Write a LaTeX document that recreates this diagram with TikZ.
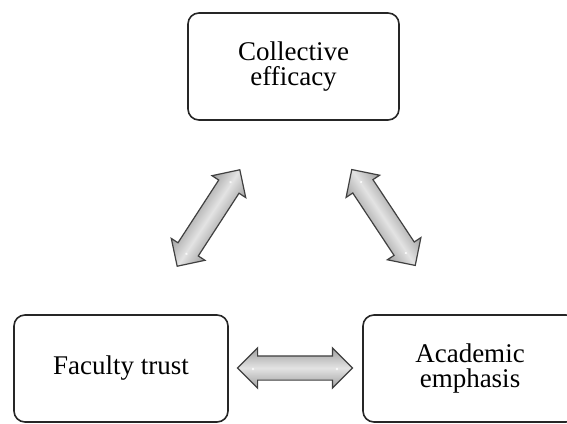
\documentclass[tikz,border=0pt]{standalone}
\usepackage{fontspec}
\setmainfont{Liberation Serif}
\usetikzlibrary{shapes.arrows}

\tikzset{
  factor/.style={draw=black!85, line width=1.6pt, rounded corners=11pt,
    minimum width=214pt, minimum height=107pt, inner sep=0pt, align=center,
    font=\fontsize{27}{25}\selectfont},
  link/.style={double arrow, draw=black!75, line width=1.2pt,
    inner xsep=0pt, inner ysep=11.5pt, minimum height=115pt,
    double arrow head extend=8pt,
    top color=gray!75, bottom color=gray!75, middle color=gray!22}
}

\begin{document}
\begin{tikzpicture}[x=1pt, y=1pt]
                \useasboundingbox (0,0) rectangle (567,423);

                % the three boxes
                \node[factor, minimum width=211pt] (ce) at (293.5,356.5) {Collective\\efficacy};
                \node[factor] (ft) at (121,54.5) {Faculty trust};
                \node[factor] (ae) at (470,54.5) {Academic\\emphasis};

                % block arrows, turned on the canvas so the shading turns too
                \begin{scope}[transform canvas={shift={(208.5,205)}, rotate=57}]
                    \node[link] (ce-ft) at (0,0) {};
                    \fill[white, opacity=.8] (-42,-1) circle (1.3) (42,1) circle (1.3);
                \end{scope}
                \begin{scope}[transform canvas={shift={(383.5,205.5)}, rotate=-56.5}]
                    \node[link] (ce-ae) at (0,0) {};
                    \fill[white, opacity=.8] (-42,1) circle (1.3) (42,-1) circle (1.3);
                \end{scope}
                \begin{scope}[transform canvas={shift={(295,55)}}]
                    \node[link] (ft-ae) at (0,0) {};
                    \fill[white, opacity=.8] (-42,-1) circle (1.3) (42,-1) circle (1.3);
                \end{scope}
\end{tikzpicture}
\end{document}
